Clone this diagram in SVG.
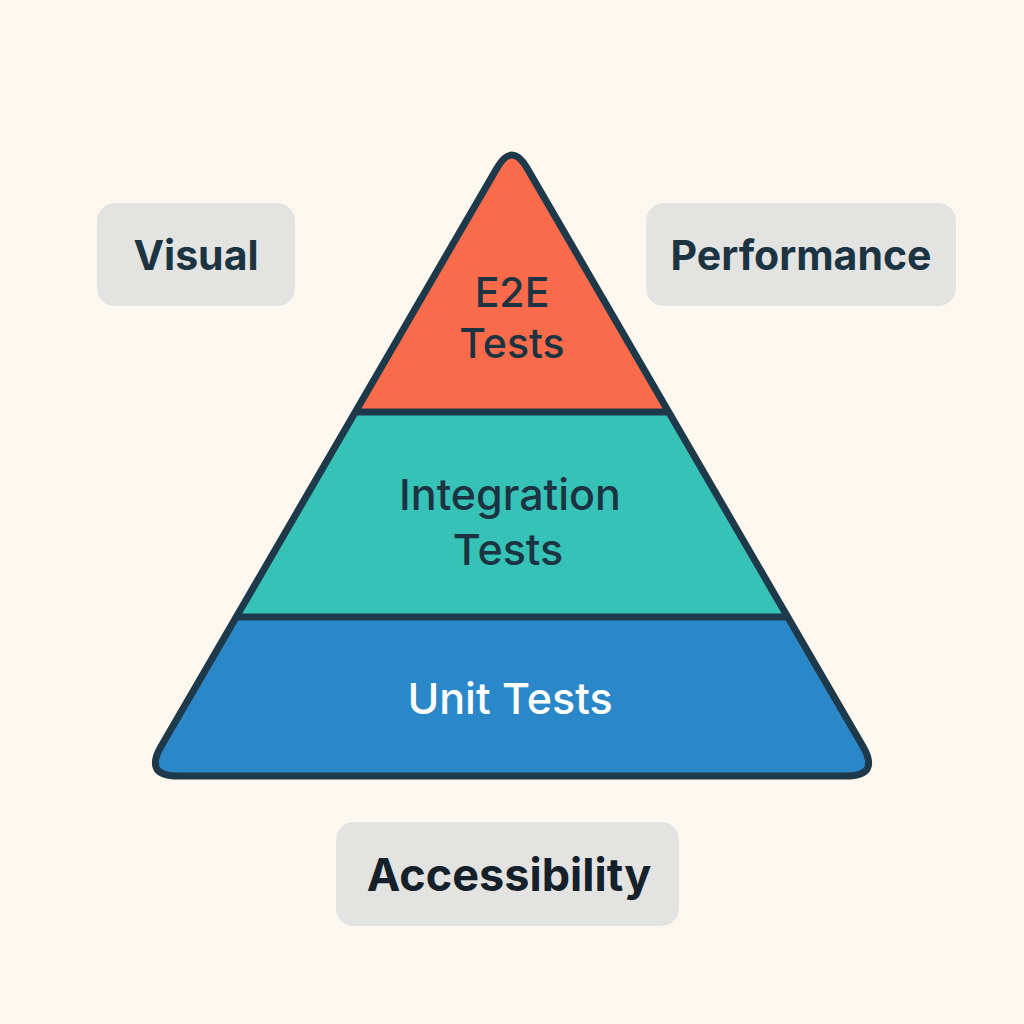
<svg xmlns="http://www.w3.org/2000/svg" width="1024" height="1024" viewBox="0 0 1024 1024">
  <defs>
    <style>
      .box { fill: #E3E3E1; }
      .boxtext { font-family: "Inter", "Liberation Sans", sans-serif; font-weight: 700; font-size: 41px; fill: #1C3442; text-anchor: middle; dominant-baseline: central; }
      .layertext { font-family: "Inter", "Liberation Sans", sans-serif; font-weight: 500; font-size: 43px; fill: #1C3442; text-anchor: middle; dominant-baseline: central; }
      .outline { fill: none; stroke: #1E3A4A; stroke-width: 7; stroke-linejoin: round; stroke-linecap: round; }
    </style>
    <clipPath id="tri">
      <path d="M497,168 L161,746.6 Q144,776 178,776 L846,776 Q880,776 863,746.6 L527,168 Q512,142 497,168 Z"/>
    </clipPath>
  </defs>
  <rect width="1024" height="1024" fill="#FDF8EF"/>

  <g id="pyramid">
    <g clip-path="url(#tri)">
      <rect id="layer-e2e" x="100" y="100" width="824" height="312" fill="#FA6B4B"/>
      <rect id="layer-integration" x="100" y="412" width="824" height="205" fill="#36C2B6"/>
      <rect id="layer-unit" x="100" y="617" width="824" height="200" fill="#2B88C8"/>
    </g>
    <line class="outline" x1="356" y1="412" x2="668" y2="412"/>
    <line class="outline" x1="237" y1="617" x2="787" y2="617"/>
    <path class="outline" d="M497,168 L161,746.6 Q144,776 178,776 L846,776 Q880,776 863,746.6 L527,168 Q512,142 497,168 Z"/>
  </g>

  <g id="e2e">
    <text class="layertext" x="512" y="292" style="font-size:41px">E2E</text>
    <text class="layertext" x="512" y="343" style="font-size:41px">Tests</text>
  </g>
  <g id="integration">
    <text class="layertext" x="510" y="494">Integration</text>
    <text class="layertext" x="508" y="549">Tests</text>
  </g>
  <g id="unit">
    <text class="layertext" x="510" y="698" style="fill:#FFFFFF">Unit Tests</text>
  </g>

  <g id="visual">
    <rect class="box" x="97" y="203" width="198" height="103" rx="18"/>
    <text class="boxtext" x="196" y="255">Visual</text>
  </g>
  <g id="performance">
    <rect class="box" x="646" y="203" width="310" height="103" rx="18"/>
    <text class="boxtext" x="801" y="255">Performance</text>
  </g>
  <g id="accessibility">
    <rect class="box" x="336" y="822" width="343" height="104" rx="18"/>
    <text class="boxtext" x="509" y="874" style="fill:#14202A;font-size:45px">Accessibility</text>
  </g>
  <g id="connectors"></g>
</svg>
